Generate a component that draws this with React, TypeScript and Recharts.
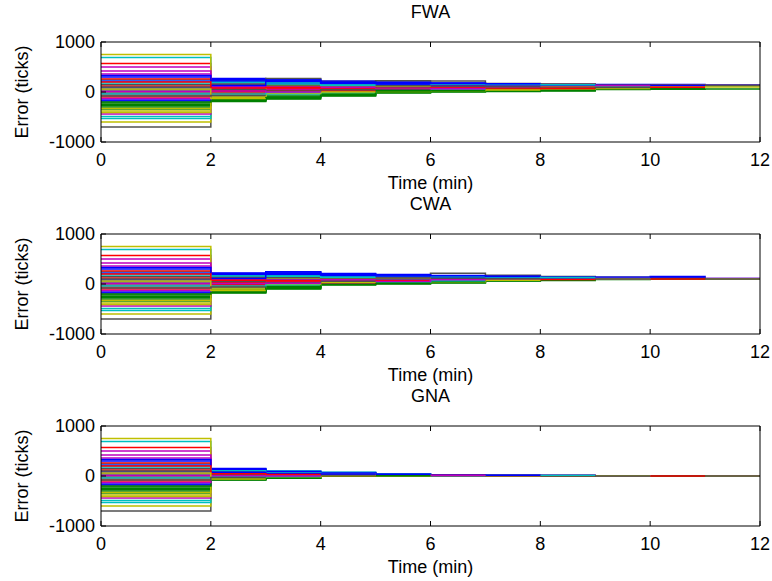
import React from 'react';
import { LineChart, Line, XAxis, YAxis } from 'recharts';

// time points of the stairs (min)
const times = [0, 2, 3, 4, 5, 6, 7, 8, 9, 10, 11, 12];
const xTicks = [0, 2, 4, 6, 8, 10, 12];
const yTicks = [-1000, 0, 1000];

// MATLAB default colour order
const colors = ['#0000FF', '#008000', '#FF0000', '#00BFBF', '#BF00BF', '#BFBF00', '#505050'];

// error of every node before the first correction (0-2 min)
const initialErrors = [
  300, -250, 570, 690, 500, 750, -700, 220, -300, 120, 250, 420, -380, 40,
  80, -220, -60, -490, 360, -600, 150, -160, -340, 260, -530, -440, -330, -20,
  330, -270, -100, 180, 10, -410, 100, -180, -200, 200, -40, -130, 60, -80,
];

// FWA: values after each step (one array per step, nodes drop out as they stop)
const fwaAt2 = [270, -190, 180, 60, 120, 230, -120, 240, -150, 30, 90, 150, -60, 0, 200, -170, -30, 210, 100, -90, 140, 250, -140, 40, -100, 70, -110, 160, 220, -160, 10, 190, 110, -80, 50, 130, -180, 80, -40, 20, -130, -70];
const fwaAt3 = [260, -140, 150, 90, 100, 200, 270, 230, -100, 60, 120, 180, -20, 40, 170, -120, 10, 190, 80, -60, 110, 240, -80, 70, -50, 50, 130, 140, 210, -110, 30, 160, 100, -30, 20, 220, -130, 90, -10, 0];
const fwaAt4 = [220, -80, 130, 100, 90, 170, 210, 190, -50, 70, 110, 150, 10, 50, 140, -70, 30, 160, 80, -20, 100, 200, -40, 60, -10, 40, 120, 125, 180, -60, 20, 135, 95, 0, 45, 175];
const fwaAt5 = [200, -20, 120, 100, 130, 160, 225, 180, 0, 80, 110, 140, 30, 60, 150, -10, 40, 170, 90, 10, 105, 190, 20, 70, 50, 55, 115, 125, 165, 35];
const fwaAt6 = [180, 0, 130, 110, 140, 150, 220, 170, 20, 90, 120, 135, 40, 70, 145, 10, 50, 160, 100, 30, 115, 175, 35, 80, 60, 65];
const fwaAt7 = [160, 10, 140, 120, 150, 130, 170, 155, 30, 95, 125, 135, 50, 75, 145, 20, 60, 150, 105, 40, 110, 165];
const fwaAt8 = [150, 20, 140, 125, 155, 120, 160, 145, 40, 100, 130, 135, 60, 80, 140, 30, 70, 145];
const fwaAt9 = [150, 50, 130, 125, 140, 110, 145, 135, 60, 100, 120, 130, 70, 90];
const fwaAt10 = [148, 55, 128, 125, 138, 105, 140, 130, 65, 95];
const fwaAt11 = [140, 60, 125, 120, 130, 100, 135];

// CWA
const cwaAt2 = [220, -180, 150, 40, 100, 190, -110, 200, -140, 20, 70, 130, -50, -10, 170, -160, -30, 180, 80, -80, 120, 210, -120, 30, -90, 60, -100, 140, 190, -150, 0, 160, 90, -70, 50, 110, -170, 75, -40, 10, -130, -60];
const cwaAt3 = [240, -100, 140, 70, 110, 180, 200, 220, -60, 50, 90, 150, -20, 20, 160, -90, 0, 170, 60, -40, 100, 245, -70, 40, -30, 30, 120, 130, 190, -80, 10, 155, 80, -10, 25, 210, -50, 65, 5, 15];
const cwaAt4 = [210, -20, 130, 90, 100, 160, 170, 190, 0, 60, 95, 140, 20, 40, 150, -10, 30, 165, 70, 10, 105, 200, 5, 50, 15, 45, 115, 120, 175, -5, 25, 135, 85, 35, 55, 180];
const cwaAt5 = [190, 0, 125, 100, 110, 150, 180, 170, 20, 70, 100, 135, 40, 55, 140, 10, 45, 155, 80, 25, 105, 185, 30, 65, 35, 50, 115, 118, 160, 15];
const cwaAt6 = [170, 20, 125, 105, 115, 140, 215, 160, 40, 80, 105, 130, 55, 70, 135, 30, 60, 145, 90, 45, 110, 165, 50, 75, 65, 85];
const cwaAt7 = [160, 60, 125, 110, 120, 130, 175, 150, 70, 95, 110, 125, 80, 90, 130, 65, 85, 140, 100, 75, 105, 155];
const cwaAt8 = [145, 70, 120, 110, 125, 115, 150, 140, 80, 100, 110, 120, 90, 95, 125, 75, 90, 130];
const cwaAt9 = [140, 90, 115, 110, 120, 105, 130, 125, 95, 100, 108, 112, 100, 102];
const cwaAt10 = [150, 95, 112, 108, 115, 100, 120, 118, 98, 102];
const cwaAt11 = [110, 95, 105, 100, 108, 98, 102];

// GNA
const gnaAt2 = [150, -80, 100, 20, 60, 120, -40, 130, -60, 0, 40, 80, -20, -10, 110, -70, -30, 140, 50, -50, 70, 145, -45, 10, -35, 30, -55, 90, 125, -65, -5, 105, 55, -25, 25, 75, -75, 45, -15, 5, -60, -30];
const gnaAt3 = [95, -45, 60, 20, 40, 70, 10, 85, -30, 0, 30, 50, -10, -5, 65, -40, -20, 100, 35, -25, 45, 90, -35, 5, -15, 25, -30, 55, 75, -40, -5, 65, 40, -20, 15, 50, -45, 30, -10, 0];
const gnaAt4 = [70, 5, 45, 25, 40, 55, 20, 60, 10, 15, 30, 40, 15, 12, 50, 5, 10, 75, 35, 8, 38, 65, 6, 20, 12, 28, 8, 45, 55, 5, 10, 48, 35, 10, 22, 42];
const gnaAt5 = [35, 5, 25, 15, 20, 30, 12, 32, 8, 10, 18, 22, 10, 8, 28, 4, 6, 38, 20, 5, 22, 34, 4, 12, 8, 16, 5, 25, 30, 3];
const gnaAt6 = [22, 4, 16, 10, 14, 18, 8, 20, 6, 8, 12, 14, 7, 6, 18, 3, 5, 24, 14, 4, 15, 21, 3, 9, 6, 11];
const gnaAt7 = [15, 3, 11, 7, 10, 12, 6, 13, 4, 6, 9, 10, 5, 5, 12, 2, 4, 16, 10, 3, 10, 14];
const gnaAt8 = [10, 2, 8, 5, 7, 8, 4, 9, 3, 4, 6, 7, 4, 3, 8, 2, 3, 11];
const gnaAt9 = [7, 2, 5, 4, 5, 6, 3, 6, 2, 3, 4, 5, 3, 2];
const gnaAt10 = [5, 1, 4, 3, 4, 4, 2, 4, 2, 2];
const gnaAt11 = [3, 1, 2, 2, 3, 2, 1];

const fwaSteps = [initialErrors, fwaAt2, fwaAt3, fwaAt4, fwaAt5, fwaAt6, fwaAt7, fwaAt8, fwaAt9, fwaAt10, fwaAt11];
const cwaSteps = [initialErrors, cwaAt2, cwaAt3, cwaAt4, cwaAt5, cwaAt6, cwaAt7, cwaAt8, cwaAt9, cwaAt10, cwaAt11];
const gnaSteps = [initialErrors, gnaAt2, gnaAt3, gnaAt4, gnaAt5, gnaAt6, gnaAt7, gnaAt8, gnaAt9, gnaAt10, gnaAt11];

// one row per time, one key per node; a node's last step is held until the next time point
function buildRows(steps: number[][]) {
  const rows: any[] = times.map((t) => ({ t }));
  initialErrors.forEach((_, i) => {
    let last = 0;
    let k = 0;
    while (k < steps.length && i < steps[k].length) {
      rows[k]['s' + i] = steps[k][i];
      last = steps[k][i];
      k++;
    }
    if (k < rows.length) rows[k]['s' + i] = last;
  });
  return rows;
}

const font = { fill: '#000', fontSize: 18 };

function ErrorPanel({ title, steps, top }: { title: string; steps: number[][]; top: number }) {
  const rows = buildRows(steps);
  return (
    <div style={{ position: 'absolute', left: 0, top, width: 772, height: 200 }}>
      <LineChart width={772} height={200} data={rows} margin={{ top: 41, right: 11, bottom: 8, left: 0 }}>
        <XAxis
          xAxisId="top"
          orientation="top"
          type="number"
          dataKey="t"
          domain={[0, 12]}
          ticks={xTicks}
          interval={0}
          height={1}
          tickSize={-5}
          tickFormatter={() => ''}
          stroke="#000"
          label={{ value: title, position: 'top', offset: 23, ...font }}
        />
        <XAxis
          xAxisId="bottom"
          type="number"
          dataKey="t"
          domain={[0, 12]}
          ticks={xTicks}
          interval={0}
          height={50}
          tickSize={-5}
          tickMargin={16}
          tick={font}
          stroke="#000"
          label={{ value: 'Time (min)', position: 'insideBottom', offset: 3, ...font }}
        />
        <YAxis
          yAxisId="left"
          type="number"
          domain={[-1000, 1000]}
          ticks={yTicks}
          interval={0}
          width={101}
          tickSize={-5}
          tickMargin={11}
          tick={font}
          stroke="#000"
          allowDataOverflow
          label={{ value: 'Error (ticks)', angle: -90, position: 'insideLeft', offset: 22, style: { textAnchor: 'middle' }, ...font }}
        />
        <YAxis
          yAxisId="right"
          orientation="right"
          type="number"
          domain={[-1000, 1000]}
          ticks={yTicks}
          interval={0}
          width={1}
          tickSize={-5}
          tickFormatter={() => ''}
          stroke="#000"
        />
        {initialErrors.map((_, i) => (
          <Line
            key={i}
            xAxisId="bottom"
            yAxisId="left"
            type="stepAfter"
            dataKey={'s' + i}
            stroke={colors[i % colors.length]}
            strokeWidth={1.5}
            dot={false}
            activeDot={false}
            connectNulls={false}
            isAnimationActive={false}
          />
        ))}
      </LineChart>
    </div>
  );
}

export default function App() {
  return (
    <div style={{ position: 'absolute', left: 0, top: 0, width: 772, height: 581, background: '#fff', fontFamily: '"Liberation Sans", Arial, sans-serif' }}>
      <ErrorPanel title="FWA" steps={fwaSteps} top={0} />
      <ErrorPanel title="CWA" steps={cwaSteps} top={192} />
      <ErrorPanel title="GNA" steps={gnaSteps} top={384} />
    </div>
  );
}
